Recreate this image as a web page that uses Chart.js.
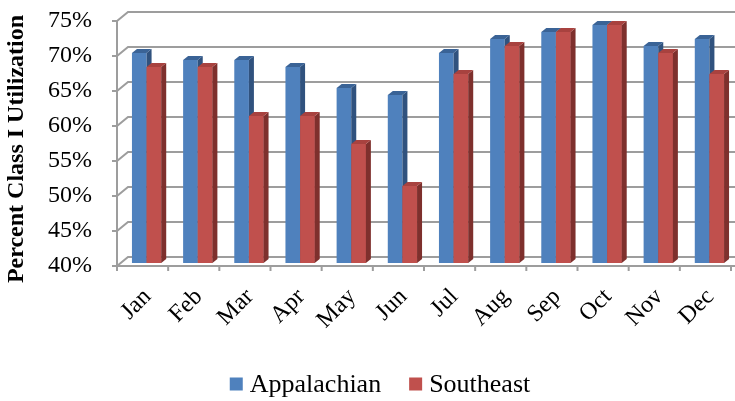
<!DOCTYPE html>
<html>
<head>
<meta charset="utf-8">
<script src="https://cdn.jsdelivr.net/npm/chart.js@4.4.1/dist/chart.umd.min.js"></script>
<style>
  html, body { margin: 0; padding: 0; background: #ffffff; }
  #wrap { width: 735px; height: 401px; }
</style>
</head>
<body>
<div id="wrap"><canvas id="chart" width="735" height="401"></canvas></div>
<script>
// Monthly utilization (%) by region
const months = ['Jan', 'Feb', 'Mar', 'Apr', 'May', 'Jun', 'Jul', 'Aug', 'Sep', 'Oct', 'Nov', 'Dec'];
const appalachian = [70, 69, 69, 68, 65, 64, 70, 72, 73, 74, 71, 72];
const southeast   = [68, 68, 61, 61, 57, 51, 67, 71, 73, 74, 70, 67];
const seriesNames = ['Appalachian', 'Southeast'];
const yMin = 40, yMax = 75, yStep = 5;
const axisTitle = 'Percent Class I Utilization';

// Styling
const SERIF = "'Liberation Serif', 'Times New Roman', serif";
const faceColors = [
  { front: '#4F81BD', side: '#30527E', top: '#3A6396' },
  { front: '#C0504D', side: '#7E302D', top: '#A8423F' }
];
const GRID = '#9d9d9d';
const FRONT = { x: -4, y: 3 };   // front edge of the floor, relative to bar faces
const BACK  = { x: 7,  y: -6 };  // back wall, relative to bar faces
const DEPTH = { x: 5,  y: -4 };  // visible depth of each column

function drawFaces(ctx, bar, colors) {
  const p = bar.getProps(['x', 'y', 'base', 'width'], true);
  const l = p.x - p.width / 2, r = p.x + p.width / 2, t = p.y, b = p.base;
  ctx.fillStyle = colors.side;
  ctx.beginPath();
  ctx.moveTo(r, t);
  ctx.lineTo(r + DEPTH.x, t + DEPTH.y);
  ctx.lineTo(r + DEPTH.x, b + DEPTH.y);
  ctx.lineTo(r, b);
  ctx.closePath();
  ctx.fill();
  ctx.fillStyle = colors.top;
  ctx.beginPath();
  ctx.moveTo(l, t);
  ctx.lineTo(l + DEPTH.x, t + DEPTH.y);
  ctx.lineTo(r + DEPTH.x, t + DEPTH.y);
  ctx.lineTo(r, t);
  ctx.closePath();
  ctx.fill();
}

const walls3d = {
  id: 'walls3d',
  beforeDatasetsDraw(chart) {
    const { ctx, chartArea: a, scales: { y } } = chart;
    ctx.save();
    ctx.strokeStyle = GRID;
    ctx.lineWidth = 2;
    const fx = a.left + FRONT.x, bx = a.left + BACK.x;
    // back-wall gridlines with side-wall connectors and axis ticks
    y.ticks.forEach(t => {
      const py = y.getPixelForValue(t.value);
      ctx.beginPath();
      ctx.moveTo(fx - 5, py + FRONT.y);
      ctx.lineTo(fx, py + FRONT.y);
      ctx.lineTo(bx, py + BACK.y);
      ctx.lineTo(chart.width, py + BACK.y);
      ctx.stroke();
    });
    // vertical axis line
    ctx.beginPath();
    ctx.moveTo(fx, y.getPixelForValue(yMax) + FRONT.y);
    ctx.lineTo(fx, y.getPixelForValue(yMin) + FRONT.y);
    ctx.stroke();
    // floor front edge and category ticks
    const fy = a.bottom + FRONT.y;
    ctx.beginPath();
    ctx.moveTo(fx, fy);
    ctx.lineTo(chart.width, fy);
    ctx.stroke();
    const w = (a.right - a.left) / months.length;
    for (let i = 0; i <= months.length; i++) {
      const px = a.left + i * w + FRONT.x;
      ctx.beginPath();
      ctx.moveTo(px, fy);
      ctx.lineTo(px, fy + 5);
      ctx.stroke();
    }
    ctx.restore();
  },
  afterDatasetsDraw(chart) {
    const { ctx } = chart;
    const m0 = chart.getDatasetMeta(0), m1 = chart.getDatasetMeta(1);
    ctx.save();
    for (let i = 0; i < months.length; i++) {
      drawFaces(ctx, m0.data[i], faceColors[0]);
      m1.data[i].draw(ctx);
      drawFaces(ctx, m1.data[i], faceColors[1]);
    }
    ctx.restore();
  },
  afterDraw(chart) {
    const { ctx } = chart;
    ctx.save();
    // axis title
    ctx.translate(17, 149);
    ctx.rotate(-Math.PI / 2);
    ctx.font = 'bold 24px ' + SERIF;
    ctx.fillStyle = '#000';
    ctx.textAlign = 'center';
    ctx.textBaseline = 'middle';
    ctx.fillText(axisTitle, 0, 0);
    ctx.restore();

    // legend
    ctx.save();
    ctx.font = '26px ' + SERIF;
    ctx.textBaseline = 'alphabetic';
    ctx.textAlign = 'left';
    const box = 13, gap = 7, itemGap = 28;
    const widths = seriesNames.map(n => ctx.measureText(n).width);
    const total = widths.reduce((s, wd) => s + box + gap + wd, 0) + itemGap * (seriesNames.length - 1);
    let lx = 380 - total / 2;
    seriesNames.forEach((n, i) => {
      ctx.fillStyle = faceColors[i].front;
      ctx.fillRect(lx, 377.5, box, box);
      ctx.fillStyle = '#000';
      ctx.fillText(n, lx + box + gap, 392);
      lx += box + gap + widths[i] + itemGap;
    });
    ctx.restore();
  }
};

new Chart(document.getElementById('chart'), {
  type: 'bar',
  data: {
    labels: months,
    datasets: [
      { label: seriesNames[0], data: appalachian, backgroundColor: faceColors[0].front, borderWidth: 0 },
      { label: seriesNames[1], data: southeast, backgroundColor: faceColors[1].front, borderWidth: 0 }
    ]
  },
  options: {
    responsive: false,
    animation: false,
    devicePixelRatio: 1,
    layout: { padding: { top: 18, left: 0, right: 0, bottom: 0 } },
    datasets: { bar: { categoryPercentage: 0.572, barPercentage: 1.0, base: yMin } },
    plugins: { legend: { display: false }, tooltip: { enabled: false } },
    scales: {
      x: {
        grid: { display: false, drawTicks: false },
        border: { display: false },
        ticks: {
          font: { family: SERIF, size: 24 },
          color: '#000',
          autoSkip: false,
          minRotation: 45,
          maxRotation: 45,
          padding: 20,
          labelOffset: 1
        },
        afterFit(s) {
          s.height = 138;
          s.paddingLeft = 0;
          s.paddingRight = 0;
        }
      },
      y: {
        min: yMin,
        max: yMax,
        grid: { display: false, drawTicks: false },
        border: { display: false },
        ticks: {
          stepSize: yStep,
          autoSkip: false,
          font: { family: SERIF, size: 24 },
          color: '#000',
          padding: 29,
          labelOffset: 3,
          callback: v => v + '%'
        },
        afterFit(s) {
          s.width = 121;
          s.paddingTop = 0;
          s.paddingBottom = 0;
        }
      }
    }
  },
  plugins: [walls3d]
});
</script>
</body>
</html>
